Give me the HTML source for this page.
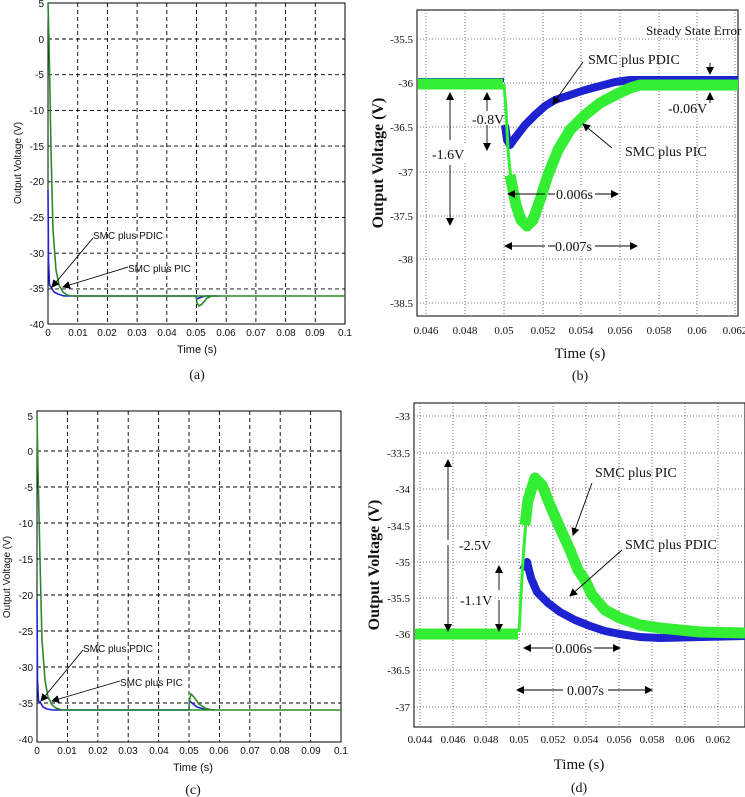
<!DOCTYPE html>
<html><head><meta charset="utf-8"><style>
html,body{margin:0;padding:0;background:#fff}
svg{display:block}
.s{font-family:"Liberation Sans",sans-serif;font-size:10px;fill:#111}
.r{font-family:"Liberation Serif",serif;fill:#111}
.g{stroke:#000;stroke-width:0.9;stroke-dasharray:4,3;fill:none}
.d{stroke:#555;stroke-width:0.8;stroke-dasharray:1,2;fill:none}
</style></head><body>
<svg width="745" height="797" viewBox="0 0 745 797" xmlns="http://www.w3.org/2000/svg">
<defs>
<marker id="ar" markerWidth="8" markerHeight="8" refX="7" refY="4" orient="auto" markerUnits="userSpaceOnUse"><path d="M0,0 L8,4 L0,8 z" fill="#000"/></marker>
</defs>

<!-- ===== Panel (a) ===== -->
<g>
<rect x="48" y="3" width="297" height="321" fill="#fff" stroke="#000" stroke-width="1"/>
<g class="g">
<line x1="77.7" y1="3" x2="77.7" y2="324"/><line x1="107.4" y1="3" x2="107.4" y2="324"/><line x1="137.1" y1="3" x2="137.1" y2="324"/><line x1="166.8" y1="3" x2="166.8" y2="324"/><line x1="196.5" y1="3" x2="196.5" y2="324"/><line x1="226.2" y1="3" x2="226.2" y2="324"/><line x1="255.9" y1="3" x2="255.9" y2="324"/><line x1="285.6" y1="3" x2="285.6" y2="324"/><line x1="315.3" y1="3" x2="315.3" y2="324"/>
<line x1="48" y1="39" x2="345" y2="39"/><line x1="48" y1="74.7" x2="345" y2="74.7"/><line x1="48" y1="110.4" x2="345" y2="110.4"/><line x1="48" y1="146.1" x2="345" y2="146.1"/><line x1="48" y1="181.8" x2="345" y2="181.8"/><line x1="48" y1="217.5" x2="345" y2="217.5"/><line x1="48" y1="253.2" x2="345" y2="253.2"/><line x1="48" y1="288.9" x2="345" y2="288.9"/>
</g>
<g class="s" text-anchor="end">
<text x="44" y="7">5</text><text x="44" y="43">0</text><text x="44" y="78">-5</text><text x="44" y="114">-10</text><text x="44" y="150">-15</text><text x="44" y="185">-20</text><text x="44" y="221">-25</text><text x="44" y="257">-30</text><text x="44" y="292">-35</text><text x="44" y="328">-40</text>
</g>
<g class="s" text-anchor="middle">
<text x="48" y="336">0</text><text x="78" y="336">0.01</text><text x="107" y="336">0.02</text><text x="137" y="336">0.03</text><text x="167" y="336">0.04</text><text x="196" y="336">0.05</text><text x="226" y="336">0.06</text><text x="256" y="336">0.07</text><text x="286" y="336">0.08</text><text x="315" y="336">0.09</text><text x="345" y="336">0.1</text>
<text x="197" y="353" font-size="11">Time (s)</text>
</g>
<text class="s" font-size="11" transform="translate(21,163) rotate(-90)" text-anchor="middle">Output Voltage (V)</text>
<text class="r" x="197" y="379" font-size="14" text-anchor="middle">(a)</text>
<path d="M48,190 L48.5,260 L49.5,285 L51,287 L54,292 L58,294 L64,296 L196,296 L197,299 L199,298 L205,296 L218,296" stroke="#1e22d0" stroke-width="1.6" fill="none"/>
<path d="M48,3 L49,40 L51,150 L53,230 L56,270 L59,285 L63,292 L67,295 L72,296 L345,296 M196,296 L197,303 L199,306 L202,304 L207,298 L212,296" stroke="#2a8a2a" stroke-width="1.6" fill="none"/>
<g stroke="#000" stroke-width="0.9" marker-end="url(#ar)"><line x1="93" y1="238" x2="52" y2="287"/><line x1="128" y1="267" x2="63" y2="287"/></g>
<text class="s" x="93" y="239" font-size="8">SMC plus PDIC</text>
<text class="s" x="128" y="272" font-size="8">SMC plus PIC</text>
</g>

<!-- ===== Panel (b) ===== -->
<g>
<rect x="417" y="10" width="321" height="306" fill="#fff" stroke="#000" stroke-width="1"/>
<g class="d">
<line x1="426" y1="10" x2="426" y2="316"/><line x1="465" y1="10" x2="465" y2="316"/><line x1="504" y1="10" x2="504" y2="316"/><line x1="543" y1="10" x2="543" y2="316"/><line x1="581" y1="10" x2="581" y2="316"/><line x1="620" y1="10" x2="620" y2="316"/><line x1="659" y1="10" x2="659" y2="316"/><line x1="697" y1="10" x2="697" y2="316"/><line x1="735" y1="10" x2="735" y2="316"/>
<line x1="417" y1="39" x2="738" y2="39"/><line x1="417" y1="83" x2="738" y2="83"/><line x1="417" y1="127" x2="738" y2="127"/><line x1="417" y1="172" x2="738" y2="172"/><line x1="417" y1="216" x2="738" y2="216"/><line x1="417" y1="259" x2="738" y2="259"/><line x1="417" y1="303" x2="738" y2="303"/>
</g>
<g class="r" font-size="11" text-anchor="end">
<text x="413" y="43">-35.5</text><text x="413" y="87">-36</text><text x="413" y="131">-36.5</text><text x="413" y="176">-37</text><text x="413" y="220">-37.5</text><text x="413" y="263">-38</text><text x="413" y="307">-38.5</text>
</g>
<g class="r" font-size="11" text-anchor="middle">
<text x="426" y="334">0.046</text><text x="465" y="334">0.048</text><text x="504" y="334">0.05</text><text x="543" y="334">0.052</text><text x="581" y="334">0.054</text><text x="620" y="334">0.056</text><text x="659" y="334">0.058</text><text x="697" y="334">0.06</text><text x="735" y="334">0.062</text>
<text x="580" y="358" font-size="15">Time (s)</text>
<text x="580" y="380" font-size="14">(b)</text>
</g>
<text class="r" font-size="16" font-weight="bold" transform="translate(383,163) rotate(-90)" text-anchor="middle">Output Voltage (V)</text>
<path d="M505,125 L507,140 L510,145 L515,138 L525,125 L535,115 L545,106 L555,100 L570,95 L585,90 L600,86 L615,82 L630,80 L738,80" stroke="#1e22d0" stroke-width="8" fill="none" stroke-linejoin="round"/>
<path d="M418,80 L504,80" stroke="#1e22d0" stroke-width="4" fill="none"/>
<path d="M504,84 L506,110 L508,150 L511,180" stroke="#33ee33" stroke-width="3" fill="none"/>
<path d="M418,84 L503,84 M510,175 L516,205 L521,220 L527,226 L533,220 L540,200 L548,175 L558,150 L570,130 L585,115 L600,103 L615,95 L630,88 L640,85 L738,85" stroke="#33ee33" stroke-width="11" fill="none" stroke-linejoin="round"/>
<g stroke="#000" stroke-width="0.9" marker-end="url(#ar)">
<line x1="450" y1="140" x2="450" y2="93"/><line x1="450" y1="165" x2="450" y2="225"/>
<line x1="487" y1="111" x2="487" y2="93"/><line x1="487" y1="125" x2="487" y2="150"/>
<line x1="545" y1="194" x2="508" y2="194"/><line x1="548" y1="194" x2="618" y2="194"/>
<line x1="545" y1="246" x2="505" y2="246"/><line x1="548" y1="246" x2="637" y2="246"/>
<line x1="583" y1="62" x2="553" y2="104"/><line x1="612" y1="148" x2="583" y2="124"/>
<line x1="710" y1="63" x2="710" y2="74"/><line x1="710" y1="103" x2="710" y2="93"/>
</g>
<g class="r" font-size="14">
<rect x="430" y="145" width="36" height="17" fill="#fff"/><text x="432" y="159">-1.6V</text>
<text x="472" y="124">-0.8V</text>
<rect x="555" y="186" width="40" height="16" fill="#fff"/><text x="556" y="199">0.006s</text>
<rect x="555" y="238" width="40" height="16" fill="#fff"/><text x="555" y="251">0.007s</text>
<text x="588" y="64">SMC plus PDIC</text>
<text x="625" y="156">SMC plus PIC</text>
<text x="646" y="35" font-size="13">Steady State Error</text>
<text x="668" y="113">-0.06V</text>
</g>
</g>

<!-- ===== Panel (c) ===== -->
<g>
<rect x="37" y="411" width="304" height="331" fill="#fff" stroke="#000" stroke-width="1"/>
<g class="g">
<line x1="67.4" y1="411" x2="67.4" y2="742"/><line x1="97.8" y1="411" x2="97.8" y2="742"/><line x1="128.2" y1="411" x2="128.2" y2="742"/><line x1="158.6" y1="411" x2="158.6" y2="742"/><line x1="189" y1="411" x2="189" y2="742"/><line x1="219.4" y1="411" x2="219.4" y2="742"/><line x1="249.8" y1="411" x2="249.8" y2="742"/><line x1="280.2" y1="411" x2="280.2" y2="742"/><line x1="310.6" y1="411" x2="310.6" y2="742"/>
<line x1="37" y1="451" x2="341" y2="451"/><line x1="37" y1="487" x2="341" y2="487"/><line x1="37" y1="523" x2="341" y2="523"/><line x1="37" y1="559" x2="341" y2="559"/><line x1="37" y1="595" x2="341" y2="595"/><line x1="37" y1="631" x2="341" y2="631"/><line x1="37" y1="667" x2="341" y2="667"/><line x1="37" y1="703" x2="341" y2="703"/>
</g>
<g class="s" text-anchor="end">
<text x="33" y="420">5</text><text x="33" y="455">0</text><text x="33" y="491">-5</text><text x="33" y="527">-10</text><text x="33" y="563">-15</text><text x="33" y="599">-20</text><text x="33" y="635">-25</text><text x="33" y="671">-30</text><text x="33" y="707">-35</text><text x="33" y="743">-40</text>
</g>
<g class="s" text-anchor="middle">
<text x="37" y="754">0</text><text x="67" y="754">0.01</text><text x="98" y="754">0.02</text><text x="128" y="754">0.03</text><text x="159" y="754">0.04</text><text x="189" y="754">0.05</text><text x="219" y="754">0.06</text><text x="250" y="754">0.07</text><text x="280" y="754">0.08</text><text x="311" y="754">0.09</text><text x="341" y="754">0.1</text>
<text x="193" y="771" font-size="11">Time (s)</text>
</g>
<text class="s" font-size="11" transform="translate(10,577) rotate(-90)" text-anchor="middle">Output Voltage (V)</text>
<text class="r" x="193" y="794" font-size="14" text-anchor="middle">(c)</text>
<path d="M37,600 L37.5,680 L38.5,701 L40,702 L43,707 L47,709 L53,710 L189,710 L189.5,701 L192,703 L197,707 L204,709 L215,710" stroke="#1e22d0" stroke-width="1.6" fill="none"/>
<path d="M37,416 L38,470 L40,560 L42,640 L45,680 L48,697 L52,705 L56,708 L62,710 L341,710 M189,710 L189.5,700 L191,694 L194,697 L199,704 L205,708 L212,710" stroke="#2a8a2a" stroke-width="1.6" fill="none"/>
<g stroke="#000" stroke-width="0.9" marker-end="url(#ar)"><line x1="83" y1="650" x2="41" y2="701"/><line x1="120" y1="681" x2="52" y2="701"/></g>
<text class="s" x="83" y="652" font-size="8">SMC plus PDIC</text>
<text class="s" x="120" y="686" font-size="8">SMC plus PIC</text>
</g>

<!-- ===== Panel (d) ===== -->
<g>
<rect x="414" y="403" width="331" height="324" fill="#fff" stroke="#000" stroke-width="1"/>
<g class="d">
<line x1="420" y1="403" x2="420" y2="727"/><line x1="453" y1="403" x2="453" y2="727"/><line x1="486" y1="403" x2="486" y2="727"/><line x1="519" y1="403" x2="519" y2="727"/><line x1="553" y1="403" x2="553" y2="727"/><line x1="586" y1="403" x2="586" y2="727"/><line x1="619" y1="403" x2="619" y2="727"/><line x1="652" y1="403" x2="652" y2="727"/><line x1="685" y1="403" x2="685" y2="727"/><line x1="718" y1="403" x2="718" y2="727"/>
<line x1="414" y1="416" x2="745" y2="416"/><line x1="414" y1="453" x2="745" y2="453"/><line x1="414" y1="489" x2="745" y2="489"/><line x1="414" y1="526" x2="745" y2="526"/><line x1="414" y1="562" x2="745" y2="562"/><line x1="414" y1="598" x2="745" y2="598"/><line x1="414" y1="634" x2="745" y2="634"/><line x1="414" y1="670" x2="745" y2="670"/><line x1="414" y1="707" x2="745" y2="707"/>
</g>
<g class="r" font-size="11" text-anchor="end">
<text x="410" y="420">-33</text><text x="410" y="457">-33.5</text><text x="410" y="493">-34</text><text x="410" y="530">-34.5</text><text x="410" y="566">-35</text><text x="410" y="602">-35.5</text><text x="410" y="638">-36</text><text x="410" y="674">-36.5</text><text x="410" y="711">-37</text>
</g>
<g class="r" font-size="11" text-anchor="middle">
<text x="420" y="743">0.044</text><text x="453" y="743">0.046</text><text x="486" y="743">0.048</text><text x="519" y="743">0.05</text><text x="553" y="743">0.052</text><text x="586" y="743">0.054</text><text x="619" y="743">0.056</text><text x="652" y="743">0.058</text><text x="685" y="743">0.06</text><text x="718" y="743">0.062</text>
<text x="579" y="769" font-size="15">Time (s)</text>
<text x="579" y="792" font-size="14">(d)</text>
</g>
<text class="r" font-size="16" font-weight="bold" transform="translate(379,565) rotate(-90)" text-anchor="middle">Output Voltage (V)</text>
<path d="M523,570 L527,562 L531,578 L537,592 L548,603 L560,612 L575,620 L590,626 L605,631 L620,634 L640,637 L660,638 L745,636" stroke="#1e22d0" stroke-width="8" fill="none" stroke-linejoin="round"/>
<path d="M519,632 L521,595 L523,560 L526,520" stroke="#33ee33" stroke-width="3" fill="none"/>
<path d="M415,634 L518,634 M525,525 L528,500 L535,478 L542,485 L550,505 L560,528 L570,550 L578,570 L585,580 L592,595 L605,610 L620,618 L640,625 L660,628 L680,630 L700,632 L745,633" stroke="#33ee33" stroke-width="11" fill="none" stroke-linejoin="round"/>
<g stroke="#000" stroke-width="0.9" marker-end="url(#ar)">
<line x1="448" y1="540" x2="448" y2="460"/><line x1="448" y1="545" x2="448" y2="631"/>
<line x1="499" y1="590" x2="499" y2="566"/><line x1="499" y1="600" x2="499" y2="631"/>
<line x1="553" y1="648" x2="524" y2="648"/><line x1="556" y1="648" x2="620" y2="648"/>
<line x1="563" y1="690" x2="517" y2="690"/><line x1="566" y1="690" x2="652" y2="690"/>
<line x1="592" y1="483" x2="573" y2="535"/><line x1="622" y1="550" x2="570" y2="596"/>
</g>
<g class="r" font-size="14">
<rect x="458" y="536" width="36" height="17" fill="#fff"/><text x="459" y="550">-2.5V</text>
<rect x="459" y="591" width="36" height="17" fill="#fff"/><text x="460" y="605">-1.1V</text>
<rect x="554" y="640" width="40" height="16" fill="#fff"/><text x="555" y="653">0.006s</text>
<rect x="566" y="682" width="42" height="16" fill="#fff"/><text x="567" y="695">0.007s</text>
<text x="595" y="477">SMC plus PIC</text>
<text x="625" y="549">SMC plus PDIC</text>
</g>
</g>
</svg>
</body></html>
